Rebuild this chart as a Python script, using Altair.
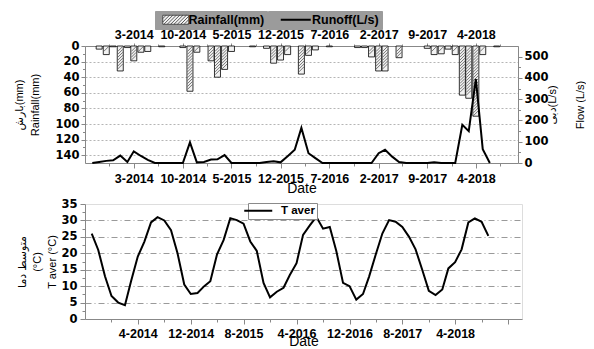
import altair as alt
import pandas as pd

# ---------------- data (monthly) ----------------
months = pd.date_range("2013-09-01", "2018-09-01", freq="MS")

rain_mm = [0, 4, 11, 1,
           32, 2, 19, 8, 7, 0, 1, 0, 0, 2, 58, 8,
           0, 19, 40, 30, 7, 0, 0, 1, 0, 3, 22, 18,
           11, 0, 36, 12, 5, 0, 1, 0, 0, 0, 2, 2,
           14, 32, 32, 0, 15, 0, 0, 0, 3, 11, 10, 4,
           11, 63, 67, 90, 11, 0, 1, 0, 0]

runoff_ls = [0, 5, 10, 13,
             35, 5, 55, 33, 15, 0, 0, 0, 0, 0, 97, 3,
             5, 16, 17, 37, 0, 0, 0, 0, 0, 5, 8, 3,
             32, 62, 165, 46, 23, 0, 0, 0, 0, 0, 0, 0,
             0, 46, 62, 30, 5, 0, 0, 0, 0, 3, 0, 0,
             0, 180, 150, 395, 65, 0]

t_aver = [26, 21, 13, 7,
          5, 4.2, 11.5, 19, 23.5, 29.4, 31, 30, 27, 20, 10.5, 7.6,
          7.9, 10, 11.5, 19.7, 24, 30.7, 30.1, 29, 23.6, 20.7, 11, 6.6,
          8.3, 9.5, 13.4, 17, 25.6, 28.5, 31.1, 27.5, 28, 20.7, 11, 10,
          5.9, 7.6, 12.9, 19.7, 26, 30.1, 29.6, 28, 25, 21.2, 14.9, 8.6,
          7.3, 9, 15.4, 17.3, 21.2, 29.4, 30.6, 29.6, 25.3]

top_ticks = [(2014, 3), (2014, 10), (2015, 5), (2015, 12), (2016, 7), (2017, 2), (2017, 9), (2018, 4)]
top_minor = [(2013, 11, 15), (2014, 6, 16), (2015, 1, 15), (2015, 8, 16), (2016, 3, 16),
             (2016, 10, 16), (2017, 5, 16), (2017, 12, 16), (2018, 7, 16)]
bot_ticks = [(2014, 4), (2014, 12), (2015, 8), (2016, 4), (2016, 12), (2017, 8), (2018, 4), (2018, 12)]
bot_minor = [(2013, 12), (2014, 8), (2015, 4), (2015, 12), (2016, 8), (2017, 4), (2017, 12), (2018, 8)]

rain_ticks = [0, 20, 40, 60, 80, 100, 120, 140]
rain_minor = [10, 30, 50, 70, 90, 110, 130]
flow_ticks = [0, 100, 200, 300, 400, 500]
flow_minor = [50, 150, 250, 350, 450]
temp_ticks = [0, 5, 10, 15, 20, 25, 30, 35]
temp_grid = [5, 10, 15, 20, 25, 30]
temp_minor = [2.5, 7.5, 12.5, 17.5, 22.5, 27.5, 32.5]

rain_df = pd.DataFrame({"date": months, "rain": rain_mm, "s": "Rainfall(mm)"})
flow_df = pd.DataFrame({"date": months[:len(runoff_ls)], "flow": runoff_ls, "s": "Runoff(L/s)"})
temp_df = pd.DataFrame({"date": months, "t": t_aver, "s": "T aver"})

# ---------------- styling ----------------
FONT = "Liberation Sans, DejaVu Sans, sans-serif"
NUMFONT = "DejaVu Sans, Liberation Sans, sans-serif"


def dt(t):
    return alt.DateTime(year=t[0], month=t[1], date=t[2] if len(t) > 2 else 1)


x_top = alt.Scale(domain=[dt((2013, 8, 22)), dt((2018, 9, 10))])
x_bot = alt.Scale(domain=[dt((2013, 8, 1)), dt((2019, 2, 3))])
rain_scale = alt.Scale(domain=[0, 150], reverse=True, nice=False, zero=True)
flow_scale = alt.Scale(domain=[0, 550], nice=False)
temp_scale = alt.Scale(domain=[0, 35], nice=False)

xlab = dict(labelFont=FONT, labelFontWeight="bold", labelFontSize=12.5,
            labelFlush=False, labelOverlap=False, grid=False)
ylab = dict(labelFont=NUMFONT, labelFontWeight="bold", labelFontSize=11.5,
            labelFlush=False, labelOverlap=False)
blank = dict(labels=False, domain=False, grid=False, title=None)

# legend swatches (symbol size 81 -> unit = 4.5 px)
RW = 26 / 9.0  # half-width of hatch swatch in units (26 px wide, 9 px tall)


def _seg(x0):
    t0 = max(0.0, (-RW - x0) / 2.0)
    t1 = min(1.0, (RW - x0) / 2.0)
    if t1 <= t0:
        return ""
    return "M{:.3f},{:.3f}L{:.3f},{:.3f}".format(x0 + 2 * t0, 1 - 2 * t0, x0 + 2 * t1, 1 - 2 * t1)


hatch_path = "M{0:.3f},-1H{1:.3f}V1H{0:.3f}Z".format(-RW, RW) + "".join(
    _seg(-RW - 2 + 0.75 * i) for i in range(12))
line30 = "M-3.333,0H3.333"
line28 = "M-3.111,0H3.111"

LEG_GRAY = "#9b9b9b"

# ---------------- top panel ----------------
bars = alt.Chart(rain_df).transform_filter("datum.rain > 0").mark_bar(
    size=6, stroke="black", strokeWidth=0.8
).encode(
    x=alt.X("date:T", scale=x_top,
            axis=alt.Axis(orient="bottom", values=[dt(t) for t in top_ticks], format="%-m-%Y",
                          tickSize=5, labelPadding=4, title="Date", titleFont=FONT,
                          titleFontSize=14, titleFontWeight="normal", titlePadding=-3, **xlab)),
    y=alt.Y("rain:Q", scale=rain_scale,
            axis=alt.Axis(orient="left", values=rain_ticks, tickSize=4, labelPadding=2,
                          grid=True, gridDash=[2, 2], gridColor="#b5b5b5", gridWidth=1,
                          title=["بارش(mm)", "Rainfall(mm)"], titleFont=FONT, titleFontSize=11,
                          titleFontWeight="normal", titleLineHeight=16, titleX=-61,
                          titleBaseline="bottom", titleAngle=270, **ylab)),
    fill=alt.Fill("s:N", scale=alt.Scale(range=["#f2f2f2"]),
                  legend=alt.Legend(orient="none", legendX=70, legendY=-35, title=None,
                                    fillColor=LEG_GRAY, strokeColor=LEG_GRAY, padding=2.5,
                                    symbolType=hatch_path, symbolSize=81, symbolOffset=12,
                                    symbolStrokeColor="#333333", symbolStrokeWidth=0.8,
                                    labelFont=FONT, labelFontWeight="bold", labelFontSize=12.5,
                                    labelColor="black", labelOffset=6.5, zindex=2)),
)

hatch = alt.Chart(rain_df).transform_filter("datum.rain >= 8").transform_calculate(
    h="sequence(3.75, datum.rain - 3.5, 3.75)"
).transform_flatten(["h"]).mark_point(
    shape="M-1,1L1,-1", size=25, filled=False, stroke="#555555", strokeWidth=0.8, opacity=1
).encode(
    x=alt.X("date:T", scale=x_top, axis=None),
    y=alt.Y("h:Q", scale=rain_scale, axis=None),
)

flow_line = alt.Chart(flow_df).mark_line(strokeWidth=2).encode(
    x=alt.X("date:T", scale=x_top,
            axis=alt.Axis(orient="top", values=[dt(t) for t in top_ticks], format="%-m-%Y",
                          tickSize=3, labelPadding=2, title=None, **xlab)),
    y=alt.Y("flow:Q", scale=flow_scale,
            axis=alt.Axis(orient="right", values=flow_ticks, tickSize=4, labelPadding=2, grid=False,
                          title=["دبی(L/s)", "Flow (L/s)"], titleFont=FONT, titleFontSize=11,
                          titleFontWeight="normal", titleAngle=270, titleBaseline="bottom",
                          titleLineHeight=28, titleX=39.5, **ylab)),
    stroke=alt.Stroke("s:N", scale=alt.Scale(range=["black"]),
                      legend=alt.Legend(orient="none", legendX=183, legendY=-35, title=None,
                                        fillColor=LEG_GRAY, strokeColor=LEG_GRAY, padding=2.5,
                                        symbolType=line30, symbolSize=81, symbolStrokeWidth=2,
                                        symbolOffset=19, labelFont=FONT, labelFontWeight="bold",
                                        labelFontSize=12.5, labelColor="black", labelOffset=10,
                                        zindex=1)),
)

minor_rain = alt.Chart(rain_df).mark_point(opacity=0).encode(
    x=alt.X("date:T", scale=x_top,
            axis=alt.Axis(orient="bottom", values=[dt(t) for t in top_minor], tickSize=3, **blank)),
    y=alt.Y("rain:Q", scale=rain_scale,
            axis=alt.Axis(orient="left", values=rain_minor, tickSize=2.5, **blank)),
)

minor_flow = alt.Chart(flow_df).mark_point(opacity=0).encode(
    x=alt.X("date:T", scale=x_top,
            axis=alt.Axis(orient="top", values=[dt(t) for t in top_minor], tickSize=2, **blank)),
    y=alt.Y("flow:Q", scale=flow_scale,
            axis=alt.Axis(orient="right", values=flow_minor, tickSize=2.5, **blank)),
)

top = alt.layer(bars, hatch, flow_line, minor_rain, minor_flow).resolve_scale(
    y="independent"
).resolve_axis(x="independent", y="independent").properties(width=433, height=117)

# ---------------- bottom panel ----------------
temp_line = alt.Chart(temp_df).mark_line(strokeWidth=2).encode(
    x=alt.X("date:T", scale=x_bot,
            axis=alt.Axis(orient="bottom", values=[dt(t) for t in bot_ticks], format="%-m-%Y",
                          labelExpr="(year(datum.value) == 2018 && month(datum.value) == 11) ? '' : datum.label",
                          tickSize=5, labelPadding=3, title="Date", titleFont=FONT,
                          titleFontSize=14, titleFontWeight="normal", titlePadding=-5, **xlab)),
    y=alt.Y("t:Q", scale=temp_scale,
            axis=alt.Axis(orient="left", values=temp_ticks, tickSize=5, labelPadding=3, grid=False,
                          title=["متوسط دما", "(°C)", "T aver (°C)"], titleFont=FONT,
                          titleFontSize=11, titleFontWeight="normal", titleLineHeight=15,
                          titleX=-58, titleBaseline="bottom", titleAngle=270, **ylab)),
    color=alt.Color("s:N", scale=alt.Scale(range=["black"]),
                    legend=alt.Legend(orient="none", legendX=163, legendY=-1, title=None,
                                      fillColor="white", strokeColor="#8a8a8a", padding=2,
                                      symbolType=line28, symbolSize=81, symbolStrokeWidth=2,
                                      symbolOffset=2.5, labelFont=FONT, labelFontWeight="bold",
                                      labelFontSize=11.5, labelColor="black", labelOffset=17)),
)

grid_layer = alt.Chart(temp_df).mark_point(opacity=0).encode(
    x=alt.X("date:T", scale=x_bot,
            axis=alt.Axis(orient="bottom", values=[dt(t) for t in bot_minor], tickSize=3, **blank)),
    y=alt.Y("t:Q", scale=temp_scale,
            axis=alt.Axis(orient="left", values=temp_grid, ticks=False, labels=False, domain=False,
                          grid=True, gridDash=[6, 3, 1, 3], gridColor="#9a9a9a", gridWidth=1,
                          title=None)),
)

minor_temp = alt.Chart(temp_df).mark_point(opacity=0).encode(
    x=alt.X("date:T", scale=x_bot, axis=None),
    y=alt.Y("t:Q", scale=temp_scale,
            axis=alt.Axis(orient="left", values=temp_minor, tickSize=3, **blank)),
)

bottom = alt.layer(grid_layer, temp_line, minor_temp).resolve_axis(
    x="independent", y="independent"
).properties(width=437, height=115)

chart = alt.vconcat(top, bottom, spacing=1).resolve_scale(
    x="independent", y="independent", color="independent", fill="independent", stroke="independent"
).resolve_legend(color="independent", fill="independent", stroke="independent").configure_view(
    stroke="black", strokeWidth=2
).configure_axis(
    domainColor="black", domainWidth=2, tickColor="black", tickWidth=1.5,
    labelColor="black", titleColor="black"
).configure(font=FONT, background="white").properties(
    padding={"left": 4, "top": 2, "right": 0, "bottom": 0}
)

chart.save("out.html", embed_options={"renderer": "svg", "actions": False})
